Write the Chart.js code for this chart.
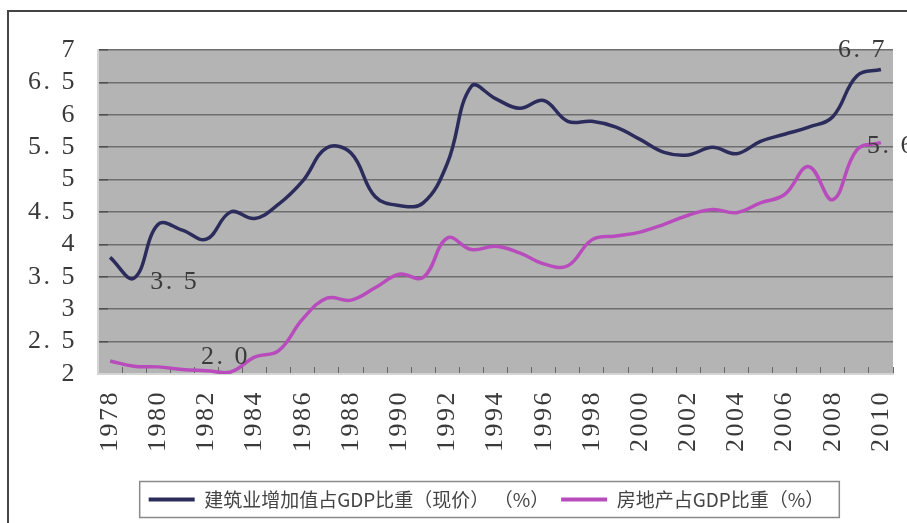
<!DOCTYPE html>
<html><head><meta charset="utf-8">
<script src="https://cdn.jsdelivr.net/npm/chart.js@4.4.1/dist/chart.umd.min.js"></script>
<style>html,body{margin:0;padding:0;background:#fff;} #wrap{width:907px;height:523px;}</style>
</head><body><div id="wrap"><canvas id="c" width="907" height="523"></canvas></div>
<script>
const years = ['1978','1979','1980','1981','1982','1983','1984','1985','1986','1987','1988','1989','1990','1991','1992','1993','1994','1995','1996','1997','1998','1999','2000','2001','2002','2003','2004','2005','2006','2007','2008','2009','2010'];
const construction = [3.80,3.48,4.31,4.22,4.08,4.50,4.40,4.62,4.98,5.49,5.41,4.74,4.60,4.64,5.25,6.44,6.25,6.10,6.22,5.90,5.90,5.81,5.62,5.42,5.38,5.50,5.40,5.59,5.70,5.81,5.97,6.60,6.70];
const realEstate = [2.20,2.12,2.11,2.07,2.05,2.03,2.26,2.36,2.85,3.17,3.14,3.33,3.54,3.49,4.10,3.92,3.97,3.87,3.70,3.67,4.07,4.13,4.19,4.31,4.45,4.54,4.49,4.64,4.77,5.20,4.69,5.46,5.57];
const yTicks = [2,2.5,3,3.5,4,4.5,5,5.5,6,6.5,7];
const seriesNames = ['建筑业增加值占GDP比重（现价） （%）','房地产占GDP比重（%）'];
const annotations = [
  {series:0, year:'1979', dx:16, dy:4, align:'left'},
  {series:1, year:'1983', dx:-5, dy:-15, align:'center'},
  {series:0, year:'2010', dx:6, dy:-19, align:'right'},
  {series:1, year:'2010', dx:-14, dy:4, align:'left'}
];
const fmt = v => Number.isInteger(v) ? String(v) : v.toFixed(1).replace('.', '. ');

const deco = {
  id: 'deco',
  afterLayout(chart) {
    if (chart.legend) { chart.legend.left = 80; }
  },
  beforeDraw(chart) {
    const {ctx, chartArea: a} = chart;
    ctx.letterSpacing = '0px';
    ctx.save();
    ctx.fillStyle = '#b4b4b4';
    ctx.fillRect(a.left, a.top, a.right - a.left, a.bottom - a.top);
    ctx.restore();
  },
  afterDatasetsDraw(chart) { chart.ctx.letterSpacing = '2.5px'; },
  afterDraw(chart) {
    const ctx = chart.ctx;
    ctx.save();
    ctx.letterSpacing = '2.5px';
    ctx.font = '26px "Liberation Serif"';
    ctx.fillStyle = '#3a3a3a';
    ctx.textBaseline = 'middle';
    annotations.forEach(an => {
      const idx = years.indexOf(an.year);
      const pt = chart.getDatasetMeta(an.series).data[idx];
      const v = chart.data.datasets[an.series].data[idx];
      ctx.textAlign = an.align;
      ctx.fillText(fmt(v), pt.x + an.dx, pt.y + an.dy);
    });
    ctx.restore();
    ctx.letterSpacing = '0px';
    const hb = chart.legend.legendHitBoxes;
    if (hb && hb.length) {
      const f = hb[0], l = hb[hb.length - 1];
      const cy = f.top + f.height / 2;
      ctx.save();
      ctx.strokeStyle = '#8a8a8a';
      ctx.lineWidth = 1.5;
      ctx.strokeRect(f.left - 9, cy - 18, l.left + l.width - f.left + 24, 36);
      ctx.restore();
    }
    ctx.save();
    ctx.strokeStyle = '#444';
    ctx.lineWidth = 2;
    ctx.beginPath();
    ctx.moveTo(8, chart.height); ctx.lineTo(8, 11); ctx.lineTo(chart.width, 11);
    ctx.stroke();
    ctx.restore();
  }
};

new Chart(document.getElementById('c'), {
  type: 'line',
  data: {
    labels: years,
    datasets: [
      {label: seriesNames[0], data: construction, borderColor: '#2c2c5c', backgroundColor: '#2c2c5c', borderWidth: 3.5, pointRadius: 0, tension: 0.4, fill: false},
      {label: seriesNames[1], data: realEstate, borderColor: '#b84cbc', backgroundColor: '#b84cbc', borderWidth: 3.5, pointRadius: 0, tension: 0.4, fill: false}
    ]
  },
  options: {
    responsive: false,
    animation: false,
    events: [],
    layout: {padding: {left: 8, right: 14, top: 50, bottom: 4}},
    plugins: {
      tooltip: {enabled: false},
      legend: {
        position: 'bottom',
        labels: {
          boxWidth: 46, boxHeight: 4, padding: 12, color: '#444',
          font: {family: '"Noto Sans CJK SC"', size: 19},
          generateLabels(chart) {
            return chart.data.datasets.map((d, i) => ({text: d.label, fillStyle: d.borderColor, strokeStyle: d.borderColor, lineWidth: 0, hidden: false, datasetIndex: i, fontColor: '#444'}));
          }
        }
      }
    },
    scales: {
      x: {
        offset: true,
        afterFit(s) { s.height = 104; s.paddingLeft = 0; s.paddingRight = 0; },
        grid: {offset: true, drawOnChartArea: false, drawTicks: true, tickLength: -7, color: '#666', lineWidth: 1},
        border: {display: true, color: '#d4d4d4', width: 2},
        ticks: {
          z: 1, autoSkip: false, minRotation: 90, maxRotation: 90, padding: 23,
          color: '#3a3a3a', font: {family: '"Liberation Serif"', size: 26},
          callback(value, index) { return index % 2 === 0 ? this.getLabelForValue(value) : ''; }
        }
      },
      y: {
        min: 2, max: 7,
        afterFit(s) { s.width = 90; s.paddingTop = 0; s.paddingBottom = 0; },
        afterBuildTicks(s) { s.ticks = yTicks.map(v => ({value: v})); },
        grid: {color: '#6e6e6e', lineWidth: 1.5, drawTicks: true, tickLength: -10, tickColor: '#505050'},
        border: {display: true, color: '#d4d4d4', width: 2},
        ticks: {
          z: 1, autoSkip: false, padding: 31, color: '#3a3a3a', font: {family: '"Liberation Serif"', size: 26},
          callback(v) { return fmt(v); }
        }
      }
    }
  },
  plugins: [deco]
});
</script></body></html>
